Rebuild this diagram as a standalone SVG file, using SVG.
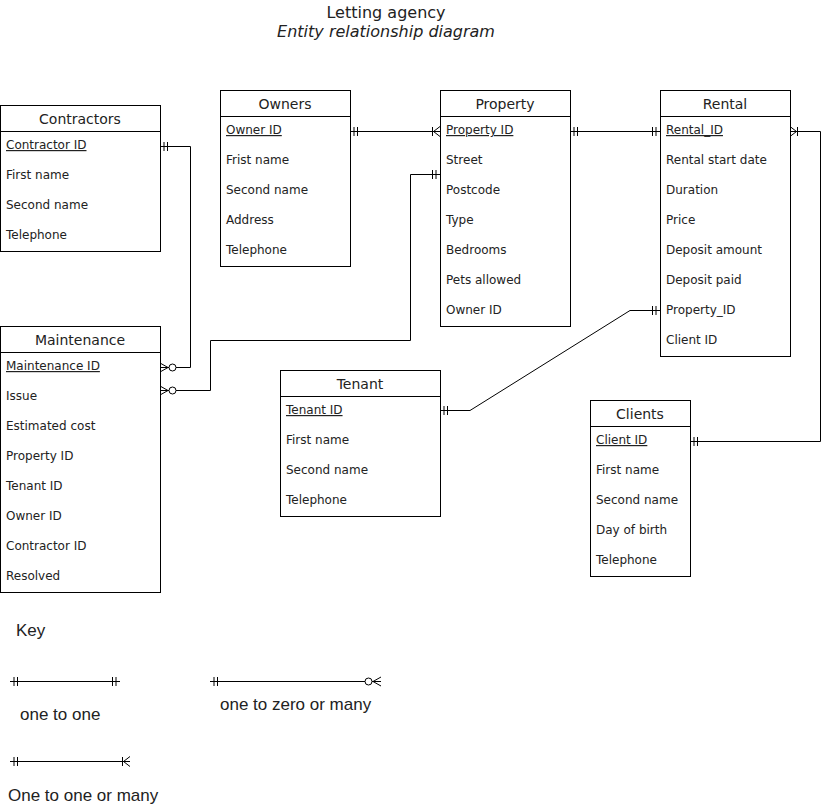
<svg xmlns="http://www.w3.org/2000/svg" width="830" height="811" viewBox="0 0 830 811">
  <style>
    .box { fill: #ffffff; stroke: #000000; stroke-width: 1; }
    .sep { stroke: #000000; stroke-width: 1; }
    .head { font-family: "DejaVu Sans", Verdana, sans-serif; font-size: 14px; fill: #222222; text-anchor: middle; }
    .row { font-family: "DejaVu Sans", Verdana, sans-serif; font-size: 12px; fill: #222222; }
    .pk { text-decoration: underline; }
    .title { font-family: "DejaVu Sans", Verdana, sans-serif; font-size: 16px; fill: #222222; text-anchor: middle; }
    .key { font-family: "Liberation Sans", Arial, sans-serif; font-size: 17px; fill: #222222; }
    .link { fill: none; stroke: #000000; stroke-width: 1; }
    .mk { fill: none; stroke: #000000; stroke-width: 1; }
  </style>
  <defs>
    <!-- mandatory one: two bars -->
    <marker id="one" markerUnits="userSpaceOnUse" orient="auto-start-reverse" viewBox="-20 -10 30 20" refX="0" refY="0" markerWidth="30" markerHeight="20" overflow="visible">
      <path class="mk" d="M-4,-4.5V4.5M-7.5,-4.5V4.5"/>
    </marker>
    <!-- one or many: bar plus crow's foot -->
    <marker id="oneMany" markerUnits="userSpaceOnUse" orient="auto-start-reverse" viewBox="-20 -10 30 20" refX="0" refY="0" markerWidth="30" markerHeight="20" overflow="visible">
      <path class="mk" d="M-7.5,-4.5V4.5M0,-5L-6.5,0L0,5"/>
    </marker>
    <!-- zero or many: circle plus crow's foot -->
    <marker id="zeroMany" markerUnits="userSpaceOnUse" orient="auto-start-reverse" viewBox="-20 -10 30 20" refX="0" refY="0" markerWidth="30" markerHeight="20" overflow="visible">
      <path class="mk" d="M0,-4.5L-8,0L0,4.5"/>
      <circle cx="-12.5" cy="0" r="3.5" fill="#ffffff" stroke="#000000" stroke-width="1"/>
    </marker>
  </defs>

  <rect width="830" height="811" fill="#ffffff"/>

  <g id="title">
    <text class="title" x="386" y="18">Letting agency</text>
    <text class="title" x="386" y="37" font-style="italic">Entity relationship diagram</text>
  </g>

  <g id="connectors">
    <path class="link" d="M350,131.5H440" marker-start="url(#one)" marker-end="url(#oneMany)"/>
    <path class="link" d="M570,131.5H660" marker-start="url(#one)" marker-end="url(#one)"/>
    <path class="link" d="M160,146.5H190.5V367.5H160" marker-start="url(#one)" marker-end="url(#zeroMany)"/>
    <path class="link" d="M440,174.5H410.5V340.5H210.5V390.5H160" marker-start="url(#one)" marker-end="url(#zeroMany)"/>
    <path class="link" d="M440,410.5H470L630,310.5H660" marker-start="url(#one)" marker-end="url(#one)"/>
    <path class="link" d="M690,441.5H820.5V131.5H790" marker-start="url(#one)" marker-end="url(#oneMany)"/>
  </g>

  <g id="contractors">
    <rect class="box" x="0.5" y="105.5" width="160" height="146"/>
    <line class="sep" x1="0.5" y1="131.5" x2="160.5" y2="131.5"/>
    <text class="head" x="80" y="124">Contractors</text>
    <text class="row pk" x="6" y="149">Contractor ID</text>
    <text class="row" x="6" y="179">First name</text>
    <text class="row" x="6" y="209">Second name</text>
    <text class="row" x="6" y="239">Telephone</text>
  </g>

  <g id="owners">
    <rect class="box" x="220.5" y="90.5" width="130" height="176"/>
    <line class="sep" x1="220.5" y1="116.5" x2="350.5" y2="116.5"/>
    <text class="head" x="285" y="109">Owners</text>
    <text class="row pk" x="226" y="134">Owner ID</text>
    <text class="row" x="226" y="164">Frist name</text>
    <text class="row" x="226" y="194">Second name</text>
    <text class="row" x="226" y="224">Address</text>
    <text class="row" x="226" y="254">Telephone</text>
  </g>

  <g id="property">
    <rect class="box" x="440.5" y="90.5" width="130" height="236"/>
    <line class="sep" x1="440.5" y1="116.5" x2="570.5" y2="116.5"/>
    <text class="head" x="505" y="109">Property</text>
    <text class="row pk" x="446" y="134">Property ID</text>
    <text class="row" x="446" y="164">Street</text>
    <text class="row" x="446" y="194">Postcode</text>
    <text class="row" x="446" y="224">Type</text>
    <text class="row" x="446" y="254">Bedrooms</text>
    <text class="row" x="446" y="284">Pets allowed</text>
    <text class="row" x="446" y="314">Owner ID</text>
  </g>

  <g id="rental">
    <rect class="box" x="660.5" y="90.5" width="130" height="266"/>
    <line class="sep" x1="660.5" y1="116.5" x2="790.5" y2="116.5"/>
    <text class="head" x="725" y="109">Rental</text>
    <text class="row pk" x="666" y="134">Rental_ID</text>
    <text class="row" x="666" y="164">Rental start date</text>
    <text class="row" x="666" y="194">Duration</text>
    <text class="row" x="666" y="224">Price</text>
    <text class="row" x="666" y="254">Deposit amount</text>
    <text class="row" x="666" y="284">Deposit paid</text>
    <text class="row" x="666" y="314">Property_ID</text>
    <text class="row" x="666" y="344">Client ID</text>
  </g>

  <g id="maintenance">
    <rect class="box" x="0.5" y="326.5" width="160" height="266"/>
    <line class="sep" x1="0.5" y1="352.5" x2="160.5" y2="352.5"/>
    <text class="head" x="80" y="345">Maintenance</text>
    <text class="row pk" x="6" y="370">Maintenance ID</text>
    <text class="row" x="6" y="400">Issue</text>
    <text class="row" x="6" y="430">Estimated cost</text>
    <text class="row" x="6" y="460">Property ID</text>
    <text class="row" x="6" y="490">Tenant ID</text>
    <text class="row" x="6" y="520">Owner ID</text>
    <text class="row" x="6" y="550">Contractor ID</text>
    <text class="row" x="6" y="580">Resolved</text>
  </g>

  <g id="tenant">
    <rect class="box" x="280.5" y="370.5" width="160" height="146"/>
    <line class="sep" x1="280.5" y1="396.5" x2="440.5" y2="396.5"/>
    <text class="head" x="360" y="389">Tenant</text>
    <text class="row pk" x="286" y="414">Tenant ID</text>
    <text class="row" x="286" y="444">First name</text>
    <text class="row" x="286" y="474">Second name</text>
    <text class="row" x="286" y="504">Telephone</text>
  </g>

  <g id="clients">
    <rect class="box" x="590.5" y="400.5" width="100" height="176"/>
    <line class="sep" x1="590.5" y1="426.5" x2="690.5" y2="426.5"/>
    <text class="head" x="640" y="419">Clients</text>
    <text class="row pk" x="596" y="444">Client ID</text>
    <text class="row" x="596" y="474">First name</text>
    <text class="row" x="596" y="504">Second name</text>
    <text class="row" x="596" y="534">Day of birth</text>
    <text class="row" x="596" y="564">Telephone</text>
  </g>

  <g id="key">
    <text class="key" x="16" y="636">Key</text>
    <path class="link" d="M10,681.5H120" marker-start="url(#one)" marker-end="url(#one)"/>
    <text class="key" x="20" y="720">one to one</text>
    <path class="link" d="M210,681.5H381" marker-start="url(#one)" marker-end="url(#zeroMany)"/>
    <text class="key" x="220" y="710">one to zero or many</text>
    <path class="link" d="M10,761.5H130" marker-start="url(#one)" marker-end="url(#oneMany)"/>
    <text class="key" x="8" y="801">One to one or many</text>
  </g>
</svg>
